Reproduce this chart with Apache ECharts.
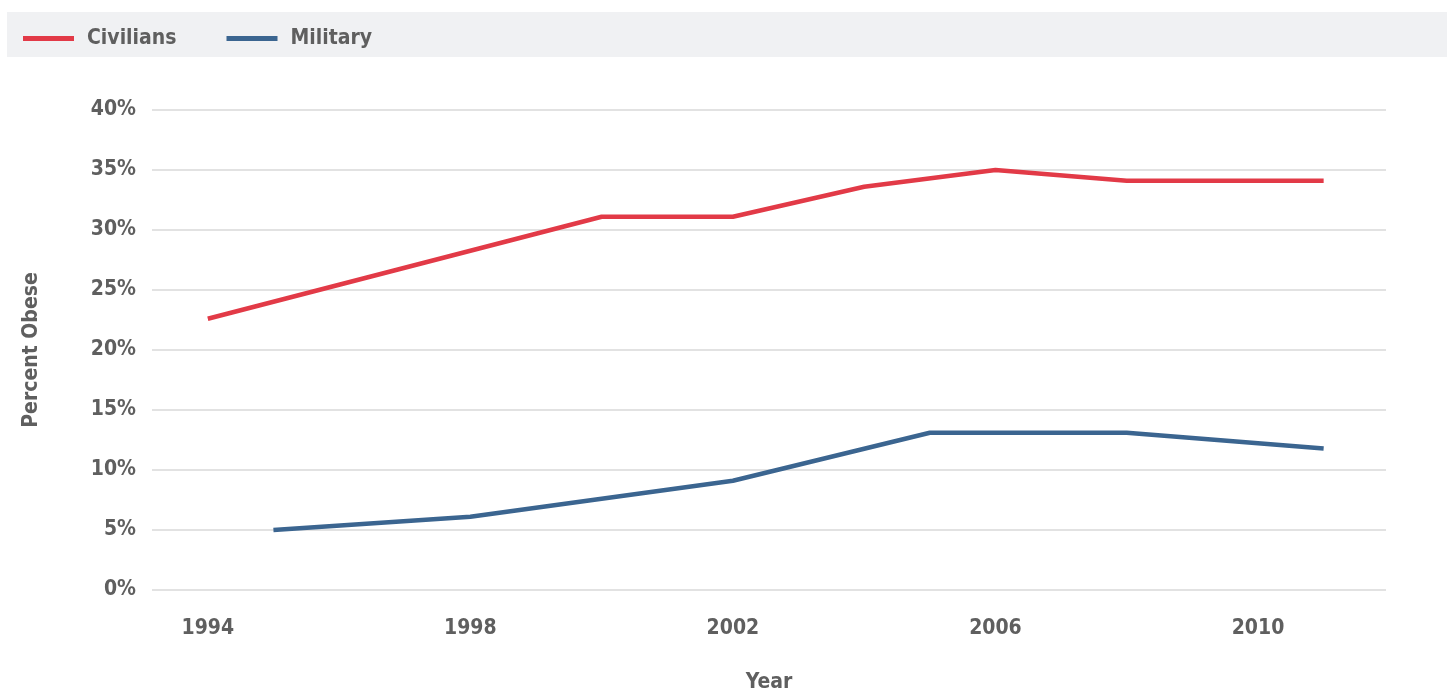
<!DOCTYPE html>
<html>
<head>
<meta charset="utf-8">
<script src="https://cdn.jsdelivr.net/npm/echarts@6/dist/echarts.min.js"></script>
<style>
  html, body { margin: 0; padding: 0; background: #fff; }
  #chart { width: 1450px; height: 694px; }
</style>
</head>
<body>
<div id="chart"></div>
<script>
// 数据
const civilianYears = [1994, 2000, 2002, 2004, 2006, 2008, 2011]
const civilianValues = [22.6, 31.1, 31.1, 33.6, 35.0, 34.1, 34.1]
const militaryYears = [1995, 1998, 2002, 2005, 2008, 2011]
const militaryValues = [5.0, 6.1, 9.1, 13.1, 13.1, 11.8]
const yearTicks = [1994, 1998, 2002, 2006, 2010]

const font = '"DejaVu Sans Condensed", "Liberation Sans Narrow", sans-serif'
const textColor = '#5f5f5f'

const toPairs = (xs, ys) => xs.map((x, i) => [x, ys[i]])

const myChart = echarts.init(document.getElementById('chart'))
const options = {
  animation: false,
  textStyle: { fontFamily: font },
  graphic: [{
    type: 'rect',
    left: 7,
    top: 12,
    z: -10,
    shape: { width: 1440, height: 45 },
    style: { fill: '#f0f1f3' }
  }],
  legend: {
    left: 18,
    top: 23,
    icon: 'rect',
    itemWidth: 51,
    itemHeight: 5,
    itemGap: 50,
    data: ['Civilians', 'Military'],
    textStyle: {
      fontFamily: font,
      fontSize: 21,
      fontWeight: 'bold',
      color: textColor,
      padding: [0, 0, 0, 8]
    }
  },
  grid: {
    left: 152,
    right: 64,
    top: 110,
    bottom: 104,
    outerBoundsMode: 'none'
  },
  xAxis: {
    type: 'value',
    min: 1993.15,
    max: 2011.95,
    name: 'Year',
    nameLocation: 'middle',
    nameGap: 82,
    nameTextStyle: { fontFamily: font, fontSize: 21, fontWeight: 'bold', color: textColor },
    axisLine: { show: false },
    axisTick: { show: false },
    splitLine: { show: false },
    axisLabel: {
      customValues: yearTicks,
      margin: 28,
      fontFamily: font,
      fontSize: 21,
      fontWeight: 'bold',
      color: textColor,
      formatter: v => String(v)
    }
  },
  yAxis: {
    type: 'value',
    min: 0,
    max: 40,
    interval: 5,
    name: 'Percent Obese',
    nameLocation: 'middle',
    nameRotate: 90,
    nameGap: 110,
    nameTextStyle: { fontFamily: font, fontSize: 21, fontWeight: 'bold', color: textColor },
    axisLine: { show: false },
    axisTick: { show: false },
    splitLine: { lineStyle: { color: '#d9d9d9', width: 1.5 } },
    axisLabel: {
      margin: 16,
      fontFamily: font,
      fontSize: 21,
      fontWeight: 'bold',
      color: textColor,
      formatter: '{value}%'
    }
  },
  series: [
    {
      name: 'Civilians',
      type: 'line',
      data: toPairs(civilianYears, civilianValues),
      symbol: 'none',
      lineStyle: { color: '#e23a47', width: 4.5 },
      itemStyle: { color: '#e23a47' }
    },
    {
      name: 'Military',
      type: 'line',
      data: toPairs(militaryYears, militaryValues),
      symbol: 'none',
      lineStyle: { color: '#3b6590', width: 4.5 },
      itemStyle: { color: '#3b6590' }
    }
  ]
}
myChart.setOption(options)
</script>
</body>
</html>
